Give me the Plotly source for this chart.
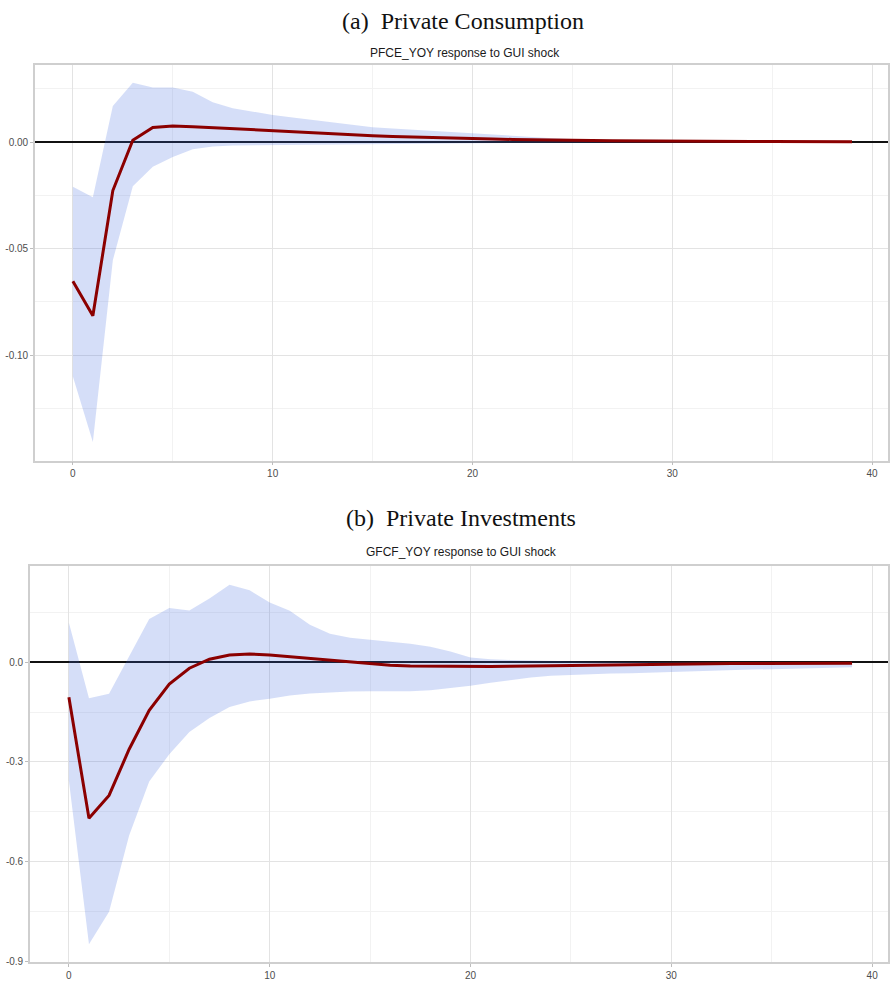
import plotly.graph_objects as go

horizon = list(range(40))

# (a) Private Consumption: PFCE_YOY response to GUI shock
pfce_irf = [-0.0653, -0.0815, -0.0227, 0.0009, 0.0069, 0.0076, 0.0073, 0.0068, 0.0063, 0.0058,
            0.0053, 0.0048, 0.0043, 0.0039, 0.0034, 0.0030, 0.0027, 0.0024, 0.0021, 0.0019,
            0.0017, 0.0015, 0.0013, 0.0011, 0.0010, 0.0009, 0.0008, 0.0007, 0.0006, 0.0006,
            0.0005, 0.0005, 0.0004, 0.0004, 0.0003, 0.0003, 0.0003, 0.0002, 0.0002, 0.0002]
pfce_upper = [-0.0209, -0.0259, 0.0170, 0.0279, 0.0257, 0.0257, 0.0237, 0.0188, 0.0159, 0.0143,
              0.0128, 0.0116, 0.0105, 0.0094, 0.0082, 0.0070, 0.0064, 0.0058, 0.0052, 0.0047,
              0.0042, 0.0036, 0.0030, 0.0024, 0.0019, 0.0015, 0.0012, 0.0010, 0.0009, 0.0008,
              0.0007, 0.0006, 0.0006, 0.0005, 0.0005, 0.0004, 0.0004, 0.0003, 0.0003, 0.0003]
pfce_lower = [-0.1100, -0.1408, -0.0554, -0.0207, -0.0115, -0.0069, -0.0033, -0.0020, -0.0015, -0.0014,
              -0.0013, -0.0012, -0.0011, -0.0010, -0.0009, -0.0008, -0.0007, -0.0006, -0.0006, -0.0005,
              -0.0005, -0.0004, -0.0004, -0.0004, -0.0003, -0.0003, -0.0003, -0.0003, -0.0002, -0.0002,
              -0.0002, -0.0002, -0.0002, -0.0002, -0.0002, -0.0002, -0.0001, -0.0001, -0.0001, -0.0001]

# (b) Private Investments: GFCF_YOY response to GUI shock
gfcf_irf = [-0.1057, -0.470, -0.401, -0.262, -0.1446, -0.0658, -0.018, 0.009, 0.022, 0.025,
            0.022, 0.017, 0.012, 0.006, 0.000, -0.005, -0.009, -0.011, -0.012, -0.013,
            -0.013, -0.013, -0.012, -0.012, -0.011, -0.010, -0.009, -0.008, -0.007, -0.006,
            -0.006, -0.005, -0.005, -0.004, -0.004, -0.004, -0.003, -0.003, -0.003, -0.003]
gfcf_upper = [0.1188, -0.1087, -0.0946, 0.020, 0.130, 0.163, 0.156, 0.192, 0.2335, 0.2167,
              0.180, 0.155, 0.113, 0.086, 0.074, 0.068, 0.062, 0.056, 0.047, 0.032,
              0.014, 0.009, 0.007, 0.005, 0.004, 0.003, 0.002, 0.001, 0.001, 0.000,
              0.000, 0.000, 0.000, 0.000, 0.000, 0.000, 0.000, 0.000, 0.000, 0.000]
gfcf_lower = [-0.357, -0.849, -0.751, -0.522, -0.359, -0.277, -0.210, -0.168, -0.135, -0.118,
              -0.110, -0.100, -0.094, -0.090, -0.088, -0.087, -0.087, -0.087, -0.084, -0.078,
              -0.071, -0.062, -0.053, -0.046, -0.041, -0.038, -0.036, -0.034, -0.033, -0.031,
              -0.028, -0.027, -0.025, -0.024, -0.022, -0.021, -0.019, -0.018, -0.016, -0.015]

pfce_yticks = [0.0, -0.05, -0.10]
pfce_ylabels = ["0.00", "-0.05", "-0.10"]
gfcf_yticks = [0.0, -0.3, -0.6, -0.9]
gfcf_ylabels = ["0.0", "-0.3", "-0.6", "-0.9"]
x_ticks = [0, 10, 20, 30, 40]

BAND = "rgba(65,105,225,0.22)"
LINE = "#8B0000"

fig = go.Figure()


def add_panel(irf, upper, lower, xa, ya):
    fig.add_trace(go.Scatter(x=horizon, y=lower, mode="lines", line=dict(width=0),
                             xaxis=xa, yaxis=ya, showlegend=False, hoverinfo="skip"))
    fig.add_trace(go.Scatter(x=horizon, y=upper, mode="lines", line=dict(width=0),
                             fill="tonexty", fillcolor=BAND,
                             xaxis=xa, yaxis=ya, showlegend=False, hoverinfo="skip"))
    fig.add_trace(go.Scatter(x=horizon, y=irf, mode="lines", line=dict(color=LINE, width=3),
                             xaxis=xa, yaxis=ya, showlegend=False))


add_panel(pfce_irf, pfce_upper, pfce_lower, "x", "y")
add_panel(gfcf_irf, gfcf_upper, gfcf_lower, "x2", "y2")

W, H = 890, 983
axis_font = dict(family="Liberation Sans, Arial, sans-serif", size=10, color="#4d4d4d")
common_x = dict(tickvals=x_ticks, showgrid=True, gridcolor="#e3e3e3", gridwidth=1,
                minor=dict(dtick=5, showgrid=True, gridcolor="#f2f2f2", gridwidth=1, ticks=""),
                zeroline=False, showline=True, linecolor="#cfcfcf", linewidth=1.5, mirror=True,
                ticks="outside", ticklen=3, tickcolor="#bdbdbd", tickfont=axis_font)
common_y = dict(showgrid=True, gridcolor="#e3e3e3", gridwidth=1,
                zeroline=True, zerolinecolor="#111111", zerolinewidth=1.6,
                showline=True, linecolor="#cfcfcf", linewidth=1.5, mirror=True,
                ticks="outside", ticklen=3, tickcolor="#bdbdbd", tickfont=axis_font)

fig.update_layout(
    width=W, height=H,
    margin=dict(l=0, r=0, t=0, b=0),
    paper_bgcolor="white", plot_bgcolor="white",
    xaxis=dict(common_x, domain=[35 / W, 1.0], range=[-1.9, 40.8], anchor="y"),
    yaxis=dict(common_y, domain=[1 - 463 / H, 1 - 65 / H], range=[-0.1495, 0.0364],
               tickvals=pfce_yticks, ticktext=pfce_ylabels, anchor="x",
               minor=dict(dtick=0.025, showgrid=True, gridcolor="#f2f2f2", gridwidth=1, ticks="")),
    xaxis2=dict(common_x, domain=[30 / W, 1.0], range=[-1.94, 40.79], anchor="y2"),
    yaxis2=dict(common_y, domain=[1 - 966.7 / H, 1 - 569.3 / H], range=[-0.902, 0.2886],
                tickvals=gfcf_yticks, ticktext=gfcf_ylabels, anchor="x2",
                minor=dict(dtick=0.15, showgrid=True, gridcolor="#f2f2f2", gridwidth=1, ticks="")),
)

title_font = dict(family="Liberation Serif, Times New Roman, serif", size=24, color="#111111")
sub_font = dict(family="Liberation Sans, Arial, sans-serif", size=12, color="#1a1a1a")
annotations = [
    dict(text="(a)\u00a0\u00a0Private Consumption", x=464 / W, y=1 - 21 / H, font=title_font),
    dict(text="PFCE_YOY response to GUI shock", x=466 / W, y=1 - 53 / H, font=sub_font),
    dict(text="(b)\u00a0\u00a0Private Investments", x=462 / W, y=1 - 521 / H, font=title_font),
    dict(text="GFCF_YOY response to GUI shock", x=463 / W, y=1 - 555 / H, font=sub_font),
]
for a in annotations:
    fig.add_annotation(xref="paper", yref="paper", xanchor="center", yanchor="middle",
                       showarrow=False, **a)

fig.write_html("out.html")
